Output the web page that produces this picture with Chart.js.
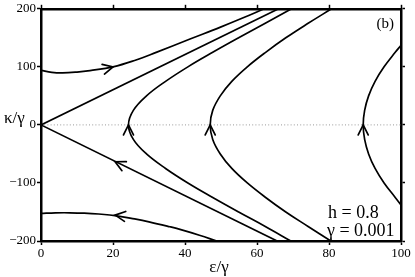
<!DOCTYPE html>
<html>
<head>
<meta charset="utf-8">
<script src="https://cdn.jsdelivr.net/npm/chart.js@4/dist/chart.umd.min.js"></script>
<style>
html,body{margin:0;padding:0;background:#fff;}
#wrap{width:415px;height:277px;}
</style>
</head>
<body>
<div id="wrap"><canvas id="c" width="415" height="277"></canvas></div>
<script>
// ---- data ----
const xTicks = [0, 20, 40, 60, 80, 100];
const yTicks = [-200, -100, 0, 100, 200];

const curveAx = [0, 3, 6, 10, 13.6, 20, 26, 32, 41.4, 49.7, 56, 62];
const curveAy = [94, 90.5, 89.5, 91, 93.6, 100, 111, 125, 148, 168, 184, 200];

const lineBx = [0, 66];
const lineBy = [0, 200];

const lineGx = [0, 65.6];
const lineGy = [0, -200];

const curveFx = [0, 4, 8, 12, 16, 21, 26, 30, 35.8, 38.6, 44, 48.8];
const curveFy = [-152.5, -151.5, -151.4, -152, -153.5, -156.6, -162, -167, -175.5, -180, -190, -200];

const hypKappa = [200, 175, 150, 125, 100, 75, 50, 25, 0, -25, -50, -75, -100, -125, -150, -175, -200];
const hypCx = [69.6, 62.3, 54.9, 47.7, 40.8, 34.6, 29.3, 25.65, 24.3, 25.65, 29.3, 34.6, 40.8, 47.7, 54.9, 62.3, 69.4];
const hypDx = [80.7, 74.2, 68.0, 62.4, 57.3, 53.0, 49.8, 47.7, 47.0, 47.7, 49.8, 53.0, 57.3, 62.4, 68.0, 74.2, 80.5];

const hypEkappa = [137, 125, 100, 75, 50, 25, 0, -25, -50, -75, -100, -125, -138];
const hypEx = [100, 98.4, 95.3, 92.8, 91.0, 89.9, 89.5, 89.9, 91.0, 92.8, 95.3, 98.4, 100];

// arrowheads: tip position and direction (in data units)
const arrowX  = [20, 24.3, 47, 89.5, 20.6, 20.6];
const arrowY  = [100, 0, 0, 0, -63.5, -155.4];
const arrowDX = [1, 0, 0, 0, -1, -1];
const arrowDY = [1.5, 1, 1, 1, 3.05, 0.8];

const labelA = 'κ/γ';
const labelX = 'ε/γ';
const panel = '(b)';
const note1 = 'h = 0.8';
const note2 = 'γ = 0.001';

// ---- build ----
function pts(xs, ys) { return xs.map((x, i) => ({x: x, y: ys[i]})); }

const SERIF = "'Liberation Serif', 'Times New Roman', serif";
const LW = 1.7;

function curve(data, tension) {
  return {data: data, showLine: true, borderColor: '#000', borderWidth: LW,
          pointRadius: 0, tension: tension, fill: false, order: 1};
}

const datasets = [
  {data: [{x: 0, y: 0}, {x: 100, y: 0}], showLine: true, borderColor: '#9a9a9a',
   borderWidth: 1, borderDash: [1, 2.2], pointRadius: 0, order: 5},
  curve(pts(curveAx, curveAy), 0.4),
  curve(pts(lineBx, lineBy), 0),
  curve(pts(lineGx, lineGy), 0),
  curve(pts(curveFx, curveFy), 0.4),
  curve(pts(hypCx, hypKappa), 0.4),
  curve(pts(hypDx, hypKappa), 0.4),
  curve(pts(hypEx, hypEkappa), 0.4)
];

const arrowPlugin = {
  id: 'arrows',
  afterDatasetsDraw(chart) {
    const ctx = chart.ctx, xs = chart.scales.x, ys = chart.scales.y;
    ctx.save();
    ctx.strokeStyle = '#000';
    ctx.lineWidth = LW;
    ctx.lineCap = 'round';
    ctx.lineJoin = 'miter';
    for (let i = 0; i < arrowX.length; i++) {
      const tx = xs.getPixelForValue(arrowX[i]);
      const ty = ys.getPixelForValue(arrowY[i]);
      const ex = xs.getPixelForValue(arrowX[i] + arrowDX[i] * 0.5);
      const ey = ys.getPixelForValue(arrowY[i] + arrowDY[i] * 0.5);
      let dx = ex - tx, dy = ey - ty;
      const n = Math.hypot(dx, dy); dx /= n; dy /= n;
      const L = 10, W = 5;
      const bx = tx - dx * L, by = ty - dy * L;
      ctx.beginPath();
      ctx.moveTo(bx - dy * W, by + dx * W);
      ctx.lineTo(tx, ty);
      ctx.lineTo(bx + dy * W, by - dx * W);
      ctx.stroke();
    }
    ctx.restore();
  },
  afterDraw(chart) {
    const ctx = chart.ctx, ca = chart.chartArea;
    ctx.save();
    ctx.fillStyle = '#000';
    ctx.textBaseline = 'alphabetic';
    ctx.font = '17px ' + SERIF;
    ctx.textAlign = 'left';
    ctx.fillText(labelA, 4, 123);
    ctx.textAlign = 'center';
    ctx.fillText(labelX, (ca.left + ca.right) / 2 - 2, 272);
    ctx.font = '15px ' + SERIF;
    ctx.textAlign = 'right';
    ctx.fillText(panel, ca.right - 7, 28);
    ctx.font = '18px ' + SERIF;
    ctx.textAlign = 'left';
    ctx.fillText(note1, 328, 218);
    ctx.fillText(note2, 327, 236);
    ctx.restore();
  }
};

function axisCommon(pos) {
  return {
    type: 'linear',
    position: pos,
    grid: {drawOnChartArea: false, drawTicks: true, tickLength: 4, tickColor: '#000', tickWidth: 1.5},
    border: {display: true, color: '#000', width: 2.5}
  };
}

const xAxis = Object.assign(axisCommon('bottom'), {
  min: 0, max: 100,
  afterBuildTicks: s => { s.ticks = xTicks.map(v => ({value: v})); },
  ticks: {color: '#000', font: {family: SERIF, size: 13}, padding: 1, maxRotation: 0, autoSkip: false},
  afterFit: s => { s.height = 36; }
});
const x2Axis = Object.assign(axisCommon('top'), {
  min: 0, max: 100,
  afterBuildTicks: s => { s.ticks = xTicks.map(v => ({value: v})); },
  ticks: {display: false},
  afterFit: s => { s.height = 8; }
});
const yAxis = Object.assign(axisCommon('left'), {
  min: -200, max: 200,
  afterBuildTicks: s => { s.ticks = yTicks.map(v => ({value: v})); },
  ticks: {color: '#000', font: {family: SERIF, size: 13}, padding: 1, autoSkip: false,
          callback: v => (v < 0 ? '\u2212' + (-v) : String(v))},
  afterFit: s => { s.width = 41; }
});
const y2Axis = Object.assign(axisCommon('right'), {
  min: -200, max: 200,
  afterBuildTicks: s => { s.ticks = yTicks.map(v => ({value: v})); },
  ticks: {display: false},
  afterFit: s => { s.width = 14; }
});

new Chart(document.getElementById('c'), {
  type: 'scatter',
  data: {datasets: datasets},
  options: {
    responsive: false,
    animation: false,
    layout: {padding: 0},
    plugins: {legend: {display: false}, tooltip: {enabled: false}},
    scales: {x: xAxis, x2: x2Axis, y: yAxis, y2: y2Axis}
  },
  plugins: [arrowPlugin]
});
</script>
</body>
</html>
